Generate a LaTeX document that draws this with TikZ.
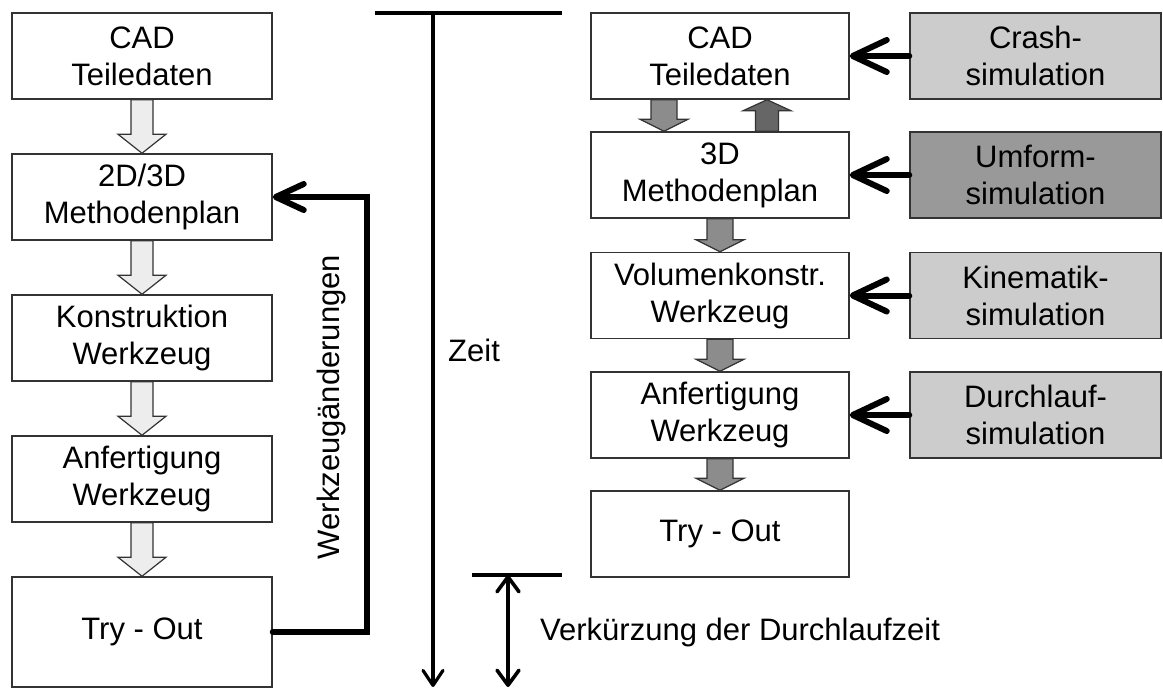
\documentclass[tikz,border=0pt]{standalone}
\usepackage{fontspec}
\setmainfont{Liberation Sans}
\usetikzlibrary{arrows.meta,calc}
\newcommand\fs{\fontsize{31}{37}\selectfont}
\newcommand\barrow[6]{%
  \coordinate (ba) at (#1);
  \coordinate (bb) at (#2);
  \coordinate (bh) at ($(bb)!#5pt!(ba)$);
  \draw[#6] ($(ba)+(-#3,0)$) -- ($(bh)+(-#3,0)$) -- ($(bh)+(-#4,0)$) -- (bb)
    -- ($(bh)+(#4,0)$) -- ($(bh)+(#3,0)$) -- ($(ba)+(#3,0)$) -- cycle;
}
\begin{document}
\begin{tikzpicture}[x=1pt,y=-1pt,
  box/.style={draw=black!80, line width=1.5pt, fill=white, minimum width=260pt,
    minimum height=86pt, align=center, inner sep=0pt, font=\fs},
  rbox/.style={box, minimum width=258pt},
  sbox/.style={box, minimum width=251pt},
  lightarrow/.style={draw=black!80, line width=1.2pt, fill=black!7},
  midarrow/.style={draw=black!80, line width=1.2pt, fill=black!45},
  darkarrow/.style={draw=black!80, line width=1.2pt, fill=black!60},
  fb/.style={line width=6pt, line cap=round, line join=miter},
  timeline/.style={line width=3.2pt},
  lbl/.style={font=\fs, inner sep=0pt}
]
\useasboundingbox (0,0) rectangle (1163,688);

% left column
\node[box] (L1) at (142,56) {CAD\\Teiledaten};
\node[box] (L2) at (142,197) {2D/3D\\Methodenplan};
\node[box] (L3) at (142,338) {Konstruktion\\Werkzeug};
\node[box] (L4) at (142,479) {Anfertigung\\Werkzeug};
\node[box, minimum height=110pt] (L5) at (142,632) {Try - Out};

\barrow{L1.south}{L2.north}{11}{24}{19}{lightarrow}
\barrow{L2.south}{L3.north}{11}{24}{19}{lightarrow}
\barrow{L3.south}{L4.north}{11}{24}{19}{lightarrow}
\barrow{L4.south}{L5.north}{11}{24}{19}{lightarrow}

% feedback loop
\draw[fb, -{Straight Barb[length=28pt,width=26pt,round]}]
  (L5.east) -- ++(94,0) |- (L2.east);
\node[lbl, rotate=90] (wz) at (331,407) {Werkzeugänderungen};

% time axis
\coordinate (t0) at (375,13);
\coordinate (t1) at (562,13);
\coordinate (ta) at (433,13);
\coordinate (tb) at (433,687);
\coordinate (s0) at (472,575);
\coordinate (s1) at (562,575);
\coordinate (da) at (508,575);
\coordinate (db) at (508,687);
\draw[timeline, line width=3.8pt] (t0) -- (t1);
\draw[timeline, -{Straight Barb[length=15pt,width=20pt,round]}] (ta) -- (tb);
\draw[timeline, line width=3.6pt] (s0) -- (s1);
\draw[timeline, line width=3.6pt, {Straight Barb[length=15pt,width=22pt,round]}-{Straight Barb[length=15pt,width=22pt,round]}] (da) -- (db);
\node[lbl, anchor=west] (zeit) at (448,350) {Zeit};
\node[lbl, anchor=west] (vk) at (540,632) {Verkürzung der Durchlaufzeit};

% right column
\node[rbox] (R1) at (720,56) {CAD\\Teiledaten};
\node[rbox] (R2) at (720,175) {3D\\Methodenplan};
\node[rbox] (R3) at (720,295.5) {Volumenkonstr.\\Werkzeug};
\node[rbox] (R4) at (720,415) {Anfertigung\\Werkzeug};
\node[rbox] (R5) at (720,534) {Try - Out};

\barrow{$(R1.south)+(-56,0)$}{$(R2.north)+(-56,0)$}{13}{24}{12}{midarrow}
\barrow{$(R2.north)+(47,0)$}{$(R1.south)+(47,0)$}{11.5}{24}{11}{darkarrow}
\barrow{R2.south}{R3.north}{13}{24}{12}{midarrow}
\barrow{R3.south}{R4.north}{13}{24}{12}{midarrow}
\barrow{R4.south}{R5.north}{13}{24}{12}{midarrow}

% simulation boxes
\node[sbox, fill=black!20] (S1) at (1035.5,56) {Crash-\\simulation};
\node[sbox, fill=black!40] (S2) at (1035.5,175) {Umform-\\simulation};
\node[sbox, fill=black!20] (S3) at (1035.5,295.5) {Kinematik-\\simulation};
\node[sbox, fill=black!20] (S4) at (1035.5,415) {Durchlauf-\\simulation};

\foreach \s/\r in {S1/R1,S2/R2,S3/R3,S4/R4}
  \draw[fb, -{Straight Barb[length=34pt,width=32pt,round]}] (\s.west) -- (\r.east);
\end{tikzpicture}
\end{document}
